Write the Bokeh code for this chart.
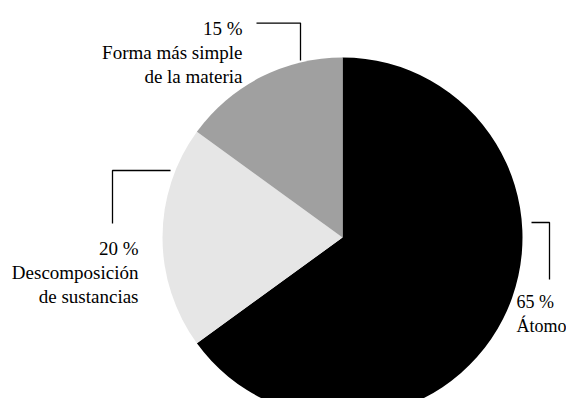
import math
from bokeh.plotting import figure
from bokeh.models import ColumnDataSource, Range1d
from bokeh.core.properties import value
from bokeh.embed import file_html
from bokeh.resources import INLINE

# ---- data ----
categories = ["Átomo", "Descomposición de sustancias", "Forma más simple de la materia"]
percents = [65, 20, 15]
label_lines = [["Átomo"], ["Descomposición", "de sustancias"], ["Forma más simple", "de la materia"]]
colors = ["#000000", "#e6e6e6", "#a0a0a0"]

# ---- layout (pixel coords, y down from top-left of figure) ----
W, H = 566, 398
cx, cy, R = 342, 237, 180
FONT = "Liberation Serif"
LH = 24

def Y(py):
    return H - py

p = figure(width=W, height=H, output_backend="svg", toolbar_location=None,
           x_range=Range1d(0, W), y_range=Range1d(0, H), min_border=0)
p.axis.visible = False
p.grid.visible = False
p.outline_line_color = None
p.background_fill_color = "white"
p.border_fill_color = "white"

# wedges: start at 12 o'clock, clockwise
total = sum(percents)
starts, ends = [], []
cum = 0.0
for v in percents:
    a0 = cum / total
    cum += v
    a1 = cum / total
    starts.append(math.pi / 2 - a1 * 2 * math.pi)
    ends.append(math.pi / 2 - a0 * 2 * math.pi)

src = ColumnDataSource(dict(x=[cx] * 3, y=[Y(cy)] * 3, start=starts, end=ends,
                            color=colors, cat=categories))
p.wedge(x="x", y="y", radius=R, radius_units="data", start_angle="start",
        end_angle="end", fill_color="color", line_color=None, source=src)

# label anchors: (x, first baseline, align, font size) per category
anchors = [(516, 301, "left", "18px"), (138, 248, "right", "19px"), (242, 28, "right", "19px")]
for (ax, ay, al, fs), pct, lines in zip(anchors, percents, label_lines):
    texts = [f"{pct} %"] + lines
    ys = [Y(ay + i * LH) for i in range(len(texts))]
    p.text(x=[ax] * len(texts), y=ys, text=texts, text_font=value(FONT),
           text_font_size=fs, text_align=al, text_baseline="alphabetic",
           text_color="#000000")

# leader lines
leaders = [
    ([531, 549, 549], [222, 222, 279]),
    ([112, 112, 170], [223, 170, 170]),
    ([256, 300, 300], [22.6, 22.6, 60]),
]
p.multi_line(xs=[l[0] for l in leaders], ys=[[Y(v) for v in l[1]] for l in leaders],
             line_color="#000000", line_width=1.3)

open("out.html", "w").write(file_html(p, INLINE))
